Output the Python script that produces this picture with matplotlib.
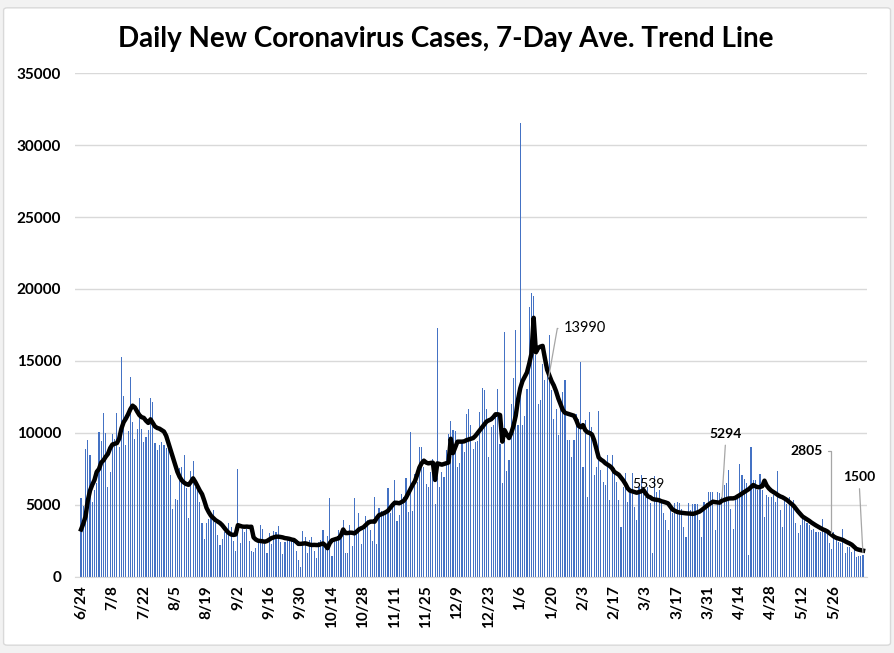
import numpy as np
import pandas as pd
import matplotlib
matplotlib.use('Agg')
import matplotlib.pyplot as plt
from matplotlib.patches import FancyBboxPatch

# daily new cases, 6/24/2020 .. 6/8/2021 (one row per week)
daily_cases = [
    5460, 4930, 8870, 9510, 8470, 5190, 6040,
    6500, 10070, 9440, 11370, 9980, 6270, 7290,
    9930, 9600, 11390, 9050, 15300, 12570, 9170,
    10140, 13890, 10790, 9600, 10280, 12430, 10280,
    9400, 9720, 10210, 12430, 12150, 9280, 8820,
    9170, 9380, 9200, 8980, 9100, 7080, 4750,
    5420, 5350, 7550, 7620, 8470, 6180, 4100,
    7340, 8060, 6270, 6110, 5190, 3750, 2640,
    3780, 4030, 4260, 4650, 3780, 2920, 2220,
    2640, 3120, 3190, 3780, 3450, 2500, 1810,
    7500, 2360, 3360, 3150, 3310, 2500, 1810,
    1740, 2010, 2500, 3610, 3360, 2290, 1670,
    3030, 2290, 3190, 3120, 3540, 2430, 1600,
    2430, 2570, 2640, 2640, 2710, 1810, 1200,
    690, 3190, 2780, 1670, 2570, 2780, 1810,
    1320, 2430, 2570, 3260, 2010, 2850, 5490,
    1460, 2500, 2570, 3260, 2920, 3960, 1650,
    1690, 3610, 2150, 5490, 3310, 4420, 2290,
    3260, 4230, 3960, 3260, 2500, 5560, 2290,
    4770, 4610, 4540, 4590, 6180, 4420, 5160,
    6740, 3870, 4310, 5770, 5580, 6880, 4540,
    10070, 4610, 7180, 6600, 9010, 9010, 7640,
    6490, 6250, 7300, 8220, 5090, 17300, 6250,
    7300, 6970, 8800, 9930, 10850, 10210, 10160,
    7640, 7920, 9490, 8680, 11300, 11640, 10560,
    8890, 9400, 9430, 11430, 13100, 12960, 11640,
    8340, 10420, 10540, 11110, 13080, 9270, 6500,
    17000, 7380, 8120, 12010, 13840, 17150, 10560,
    31550, 10560, 11180, 13030, 18750, 19740, 19490,
    15390, 12040, 12270, 14820, 13660, 14700, 16780,
    12960, 11000, 11640, 9860, 12170, 12850, 13660,
    9490, 9490, 8340, 9490, 11340, 10990, 14950,
    7660, 10880, 5580, 11460, 10420, 7080, 7660,
    11530, 7430, 6620, 6390, 8470, 5350, 8470,
    7550, 6620, 5350, 3490, 6270, 7240, 5230,
    5810, 7200, 4880, 3960, 6270, 7080, 5920,
    5580, 6270, 5120, 1650, 7010, 5920, 6040,
    5350, 4470, 3960, 3260, 4900, 4420, 5120,
    5230, 5120, 4700, 3490, 2800, 5120, 4650,
    5070, 5070, 5070, 3960, 2800, 5230, 5120,
    5880, 5880, 5880, 3260, 5920, 5810, 5580,
    6390, 6550, 7430, 4750, 3360, 5330, 5790,
    7870, 7060, 6830, 6500, 1510, 9050, 6740,
    6740, 6040, 7180, 6040, 4170, 5670, 5560,
    5560, 5670, 5210, 7390, 4630, 3470, 5330,
    5090, 5560, 5210, 5330, 3720, 3030, 3610,
    4170, 3960, 3720, 3610, 3260, 3360, 3150,
    3150, 3150, 4000, 3260, 3080, 2390, 1920,
    3150, 2570, 2450, 2340, 3310, 1650, 2110,
    2060, 1760, 2150, 1410, 1460, 1460, 1500,
]

# 7-day average trend line
trend = [
    3300, 3700, 4200, 5300, 6000, 6400, 6740,
    7300, 7500, 7950, 8100, 8350, 8550, 8950,
    9200, 9250, 9300, 9600, 10300, 10750, 11000,
    11300, 11650, 11900, 11780, 11500, 11250, 11100,
    11050, 10850, 10700, 10950, 10700, 10450, 10350,
    10300, 10200, 10100, 9800, 9300, 8800, 8300,
    7800, 7300, 6950, 6700, 6550, 6450, 6400,
    6600, 6850, 6600, 6300, 6000, 5750, 5300,
    4800, 4500, 4250, 4100, 3950, 3850, 3750,
    3600, 3400, 3200, 3050, 2950, 2920, 2950,
    3600, 3550, 3500, 3490, 3500, 3480, 3490,
    2750, 2600, 2520, 2500, 2480, 2450, 2500,
    2600, 2700, 2750, 2800, 2800, 2780, 2750,
    2700, 2680, 2650, 2600, 2570, 2450, 2300,
    2300, 2320, 2340, 2300, 2250, 2220, 2230,
    2220, 2220, 2280, 2330, 2200, 2000, 2350,
    2550, 2600, 2650, 2690, 2900, 3300, 3050,
    3050, 3080, 3070, 3030, 3150, 3300, 3380,
    3450, 3600, 3750, 3840, 3850, 3840, 4100,
    4300, 4350, 4420, 4500, 4600, 4800, 5000,
    5160, 5150, 5120, 5200, 5290, 5500, 5800,
    6100, 6400, 6650, 7100, 7600, 7900, 8080,
    7950, 7890, 7920, 7940, 6740, 7890, 7850,
    7800, 7850, 7900, 7950, 9600, 8600, 9000,
    9400, 9400, 9400, 9420, 9500, 9550, 9600,
    9650, 9800, 10000, 10200, 10400, 10600, 10800,
    10880, 10950, 11100, 11300, 11300, 11250, 9400,
    10200, 9900, 9650, 10000, 10500, 11200, 12300,
    13100, 13600, 13900, 14200, 14800, 15500, 18000,
    15600, 15900, 16000, 16050, 15200, 14400, 13990,
    13600, 13300, 12900, 12400, 12000, 11600, 11400,
    11350, 11300, 11250, 11200, 10900, 10500, 10400,
    10550, 10200, 10050, 10000, 9900, 9500, 8900,
    8300, 8150, 8050, 7900, 7800, 7700, 7550,
    7300, 7200, 7100, 6900, 6700, 6450, 6150,
    5990, 5950, 5900, 5850, 5900, 5950, 6040,
    5800, 5600, 5539, 5420, 5380, 5360, 5330,
    5260, 5220, 5170, 5110, 4900, 4680, 4600,
    4520, 4480, 4460, 4440, 4420, 4410, 4400,
    4380, 4420, 4480, 4540, 4650, 4780, 4900,
    5020, 5130, 5230, 5200, 5180, 5160, 5294,
    5350, 5400, 5450, 5460, 5460, 5500, 5600,
    5690, 5800, 5900, 6000, 6100, 6250, 6390,
    6300, 6230, 6250, 6300, 6690, 6350, 6150,
    6000, 5900, 5800, 5690, 5600, 5540, 5450,
    5350, 5220, 5080, 4950, 4750, 4550, 4380,
    4200, 4100, 4000, 3900, 3780, 3680, 3580,
    3490, 3400, 3310, 3250, 3170, 3050, 2930,
    2805, 2720, 2670, 2620, 2570, 2480, 2400,
    2330, 2240, 2100, 1950, 1900, 1860, 1830,
]

start_date = '2020-06-24'
dates = pd.date_range(start_date, periods=len(daily_cases))
x = np.arange(len(daily_cases))

yticks = np.arange(0, 35001, 5000)

plt.rcParams['font.family'] = ['Lato', 'DejaVu Sans']

fig = plt.figure(figsize=(8.95, 6.53), dpi=100, facecolor='#F2F2F2')
fig.patches.append(FancyBboxPatch((0.004, 0.012), 0.991, 0.976,
                                  boxstyle='round,pad=0,rounding_size=0.004',
                                  transform=fig.transFigure, facecolor='white',
                                  edgecolor='#D9D9D9', linewidth=1, zorder=-5))

ax = fig.add_axes([0.0838, 0.1164, 0.885, 0.7718])
ax.set_facecolor('white')
ax.set_zorder(2)

ax.bar(x, daily_cases, width=0.5, color='#4472C4', zorder=2)
ax.plot(x, trend, color='black', linewidth=3.2, zorder=3, solid_joinstyle='round')

ax.set_xlim(-2.7, len(x) + 0.8)
ax.set_ylim(0, 35000)
ax.set_yticks(yticks)
ax.set_yticklabels([str(v) for v in yticks], fontweight='bold', fontsize=11)
ax.grid(axis='y', color='#D9D9D9', linewidth=1, zorder=0)
ax.set_axisbelow(True)

tick_idx = x[::14]
ax.set_xticks(tick_idx)
ax.set_xticklabels([f'{d.month}/{d.day}' for d in dates[tick_idx]],
                   rotation=90, fontweight='bold', fontsize=11)
ax.tick_params(axis='both', length=0)
ax.tick_params(axis='x', pad=6)
ax.tick_params(axis='y', pad=10)
for s in ['top', 'right', 'left']:
    ax.spines[s].set_visible(False)
ax.spines['bottom'].set_color('#D9D9D9')

fig.text(0.498, 0.941, 'Daily New Coronavirus Cases, 7-Day Ave. Trend Line',
         ha='center', va='center', fontsize=20, fontweight='bold')

# data labels
lead = dict(arrowstyle='-', color='#A6A6A6', linewidth=0.9, shrinkA=2, shrinkB=2)
i_peak = 209
ax.annotate(f'{trend[i_peak]}', xy=(i_peak - 0.5, trend[i_peak] - 300), xytext=(11, 37),
            textcoords='offset points', fontsize=10.5, ha='left', va='center',
            arrowprops=dict(lead, connectionstyle='angle,angleA=0,angleB=80,rad=0'))
i_feb = 254
ax.annotate(f'{trend[i_feb]}', xy=(i_feb, trend[i_feb]), xytext=(-1, 5),
            textcoords='offset points', fontsize=10, ha='center', va='bottom')
i_apr = 286
ax.annotate(f'{trend[i_apr]}', xy=(i_apr, trend[i_apr]), xytext=(3, 44),
            textcoords='offset points', fontsize=10, fontweight='bold',
            ha='center', va='bottom', arrowprops=lead)
i_may = 336
ax.annotate(f'{trend[i_may]}', xy=(i_may - 1.2, trend[i_may] + 80), xytext=(-6, 61),
            textcoords='offset points', fontsize=10, fontweight='bold',
            ha='right', va='center',
            arrowprops=dict(lead, connectionstyle='angle,angleA=0,angleB=90,rad=0'))
i_end = len(x) - 1
ax.annotate(f'{daily_cases[i_end]}', xy=(i_end, daily_cases[i_end]), xytext=(-3, 52),
            textcoords='offset points', fontsize=10, fontweight='bold',
            ha='center', va='bottom', arrowprops=lead)

fig.savefig('out.png', dpi=100, facecolor=fig.get_facecolor())
